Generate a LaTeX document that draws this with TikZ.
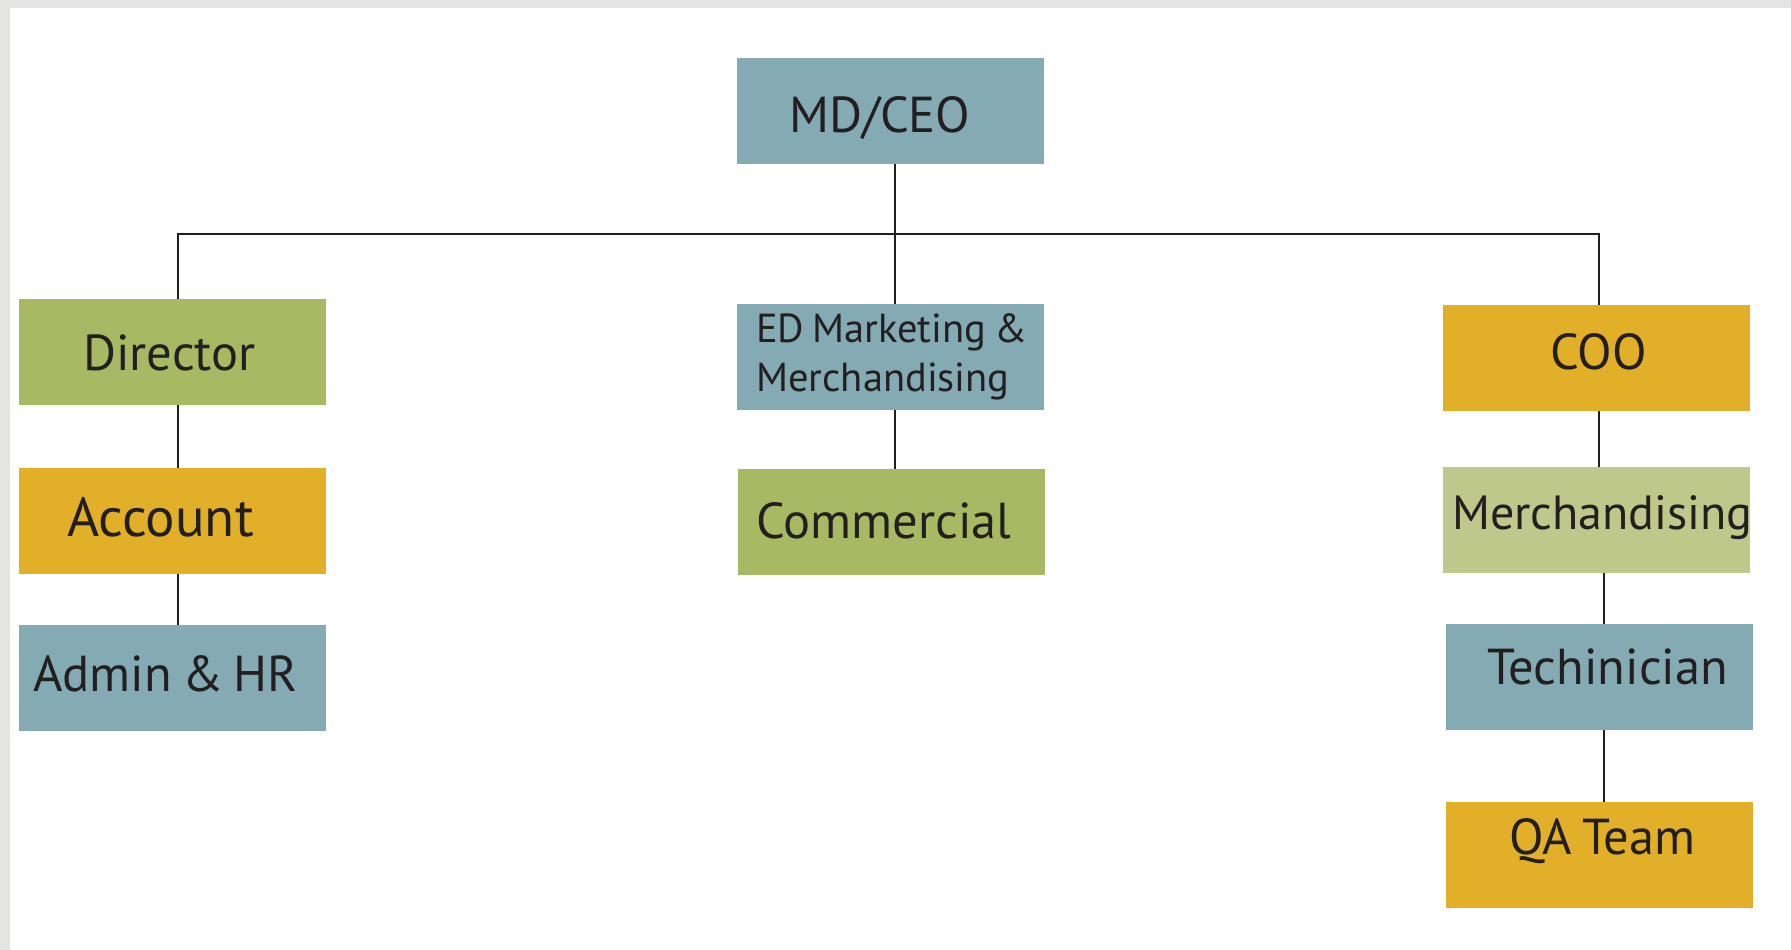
\documentclass[tikz,border=0pt]{standalone}
\usepackage{fontspec}
\setmainfont{PT Sans}[WordSpace=0.75]
\definecolor{boxblue}{HTML}{84ABB3}
\definecolor{boxgreen}{HTML}{A8B963}
\definecolor{boxyellow}{HTML}{E2AF29}
\definecolor{boxlight}{HTML}{BDC88A}
\definecolor{ink}{HTML}{231F20}
\definecolor{edge}{HTML}{E4E4E2}
\tikzset{
  orgbox/.style={draw=none, inner sep=0pt, minimum width=307pt, minimum height=106pt, anchor=north west},
  lbl/.style={anchor=base west, inner sep=0pt, text=ink, font=\fontsize{50.5}{60}\selectfont},
  smalllbl/.style={anchor=base west, inner sep=0pt, text=ink, font=\fontsize{40.5}{48}\selectfont},
  link/.style={draw=ink, line width=2.7pt}
}
\begin{document}
\begin{tikzpicture}[x=1pt,y=-1pt]
\useasboundingbox (0,0) rectangle (1791,950);
\fill[edge] (0,0) rectangle (1791,950);
\fill[white] (10,8) rectangle (1791,950);

% boxes
\node[orgbox, fill=boxblue]   (ceo) at (737,58)  {};
\node[orgbox, fill=boxblue]   (ed)  at (737,304) {};
\node[orgbox, fill=boxgreen]  (com) at (738,469) {};
\node[orgbox, fill=boxgreen]  (dir) at (19,299)  {};
\node[orgbox, fill=boxyellow] (acc) at (19,468)  {};
\node[orgbox, fill=boxblue]   (adm) at (19,625)  {};
\node[orgbox, fill=boxyellow] (coo) at (1443,305) {};
\node[orgbox, fill=boxlight]  (mer) at (1443,467) {};
\node[orgbox, fill=boxblue]   (tec) at (1446,624) {};
\node[orgbox, fill=boxyellow] (qa)  at (1446,802) {};

% labels
\node[lbl] (ceo-t) at (789,132) {MD/CEO};
\node[smalllbl] (ed-t1) at (756,342) {ED Marketing \&};
\node[smalllbl] (ed-t2) at (756,391) {Merchandising};
\node[lbl] (com-t) at (756,538) {Commercial};
\node[lbl] (dir-t) at (83,370) {Director};
\node[lbl, font=\fontsize{55}{64}\selectfont] (acc-t) at (67,536) {Account};
\node[lbl] (adm-t) at (33,691) {Admin \& HR};
\node[lbl] (coo-t) at (1550,369) {COO};
\node[lbl, font=\fontsize{48}{58}\selectfont] (mer-t) at (1452,529) {Merchandising};
\node[lbl] (tec-t) at (1487,684) {Techinician};
\node[lbl] (qa-t)  at (1509,854) {QA Team};

% connectors
\coordinate (busL) at (178,234);
\coordinate (busC) at (895,234);
\coordinate (busR) at (1599,234);
\coordinate (colR) at (1604,0);
\draw[link] (ceo.south -| busC) -- (ed.north -| busC);
\draw[link] (busL |- dir.north) -- (busL) -- (busR) -- (busR |- coo.north);
\draw[link] (ed.south -| busC) -- (com.north -| busC);
\draw[link] (dir.south -| busL) -- (acc.north -| busL);
\draw[link] (acc.south -| busL) -- (adm.north -| busL);
\draw[link] (coo.south -| busR) -- (mer.north -| busR);
\draw[link] (mer.south -| colR) -- (tec.north -| colR);
\draw[link] (tec.south -| colR) -- (qa.north -| colR);
\end{tikzpicture}
\end{document}
